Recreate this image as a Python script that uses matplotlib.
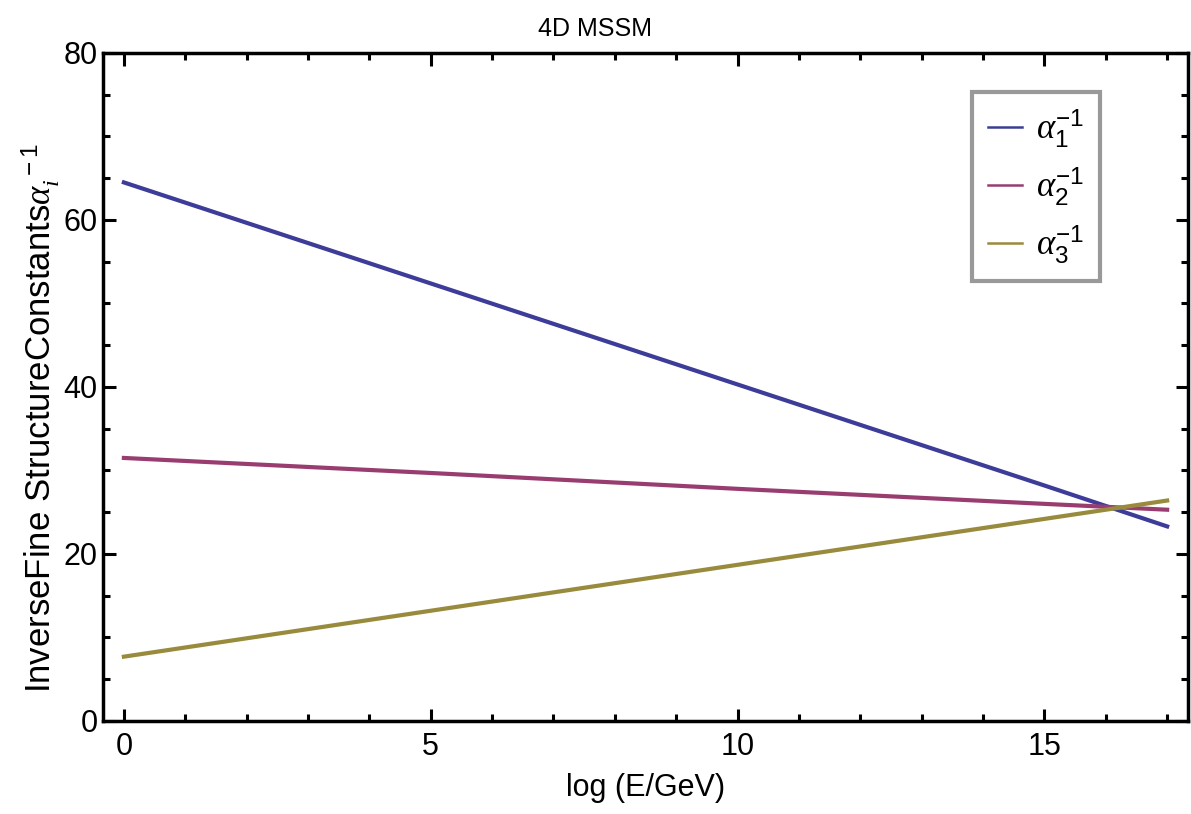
import numpy as np
import matplotlib
matplotlib.use("Agg")
import matplotlib.pyplot as plt
from matplotlib.ticker import MultipleLocator

plt.rcParams['font.family'] = ['Liberation Sans', 'DejaVu Sans']
plt.rcParams['mathtext.fontset'] = 'custom'
plt.rcParams['mathtext.it'] = 'Liberation Serif:italic'
plt.rcParams['mathtext.rm'] = 'Liberation Sans'

# log10(E/GeV) sample points
log_e = [0, 5, 10, 15, 17]
alpha1_inv = [64.5, 52.4, 40.3, 28.2, 23.3]
alpha2_inv = [31.5, 29.7, 27.8, 26.0, 25.3]
alpha3_inv = [7.7, 13.2, 18.7, 24.2, 26.4]

labels = [r'$\alpha_1^{-1}$', r'$\alpha_2^{-1}$', r'$\alpha_3^{-1}$']
colors = ['#3d3d99', '#993d71', '#998b3d']

fig = plt.figure(figsize=(11.91, 8.14), dpi=100)
ax = fig.add_axes([0.0865, 0.1143, 0.911, 0.8206])

for ys, lab, c in zip([alpha1_inv, alpha2_inv, alpha3_inv], labels, colors):
    ax.plot(log_e, ys, color=c, lw=3, label=lab)

ax.set_xlim(-0.34, 17.34)
ax.set_ylim(0, 80)
ax.xaxis.set_major_locator(MultipleLocator(5))
ax.xaxis.set_minor_locator(MultipleLocator(1))
ax.yaxis.set_major_locator(MultipleLocator(20))
ax.yaxis.set_minor_locator(MultipleLocator(5))
ax.tick_params(which='both', direction='in', top=True, right=True, width=2.2, labelsize=22, colors='black')
ax.tick_params(which='major', length=9)
ax.tick_params(which='minor', length=5)
ax.tick_params(axis='x', pad=8)
ax.tick_params(axis='y', pad=4)
for s in ax.spines.values():
    s.set_linewidth(2.5)

fig.text(0.5, 0.964, '4D MSSM', fontsize=18, ha='center', va='center')
ax.set_xlabel('log (E/GeV)', fontsize=22, labelpad=8)
ax.set_ylabel(r'InverseFine StructureConstants$\alpha_i^{\ -1}$', fontsize=25)
ax.yaxis.set_label_coords(-0.038, 0.454)

leg = ax.legend(loc='upper right', bbox_to_anchor=(0.919, 0.942), borderaxespad=0,
                fontsize=25, handlelength=1.0, handletextpad=0.4, labelspacing=0.45,
                fancybox=False, borderpad=0.45)
leg.get_frame().set_edgecolor('#808080')
leg.get_frame().set_linewidth(3)
for line in leg.get_lines():
    line.set_linewidth(1.8)

fig.savefig('out.png', dpi=100)
